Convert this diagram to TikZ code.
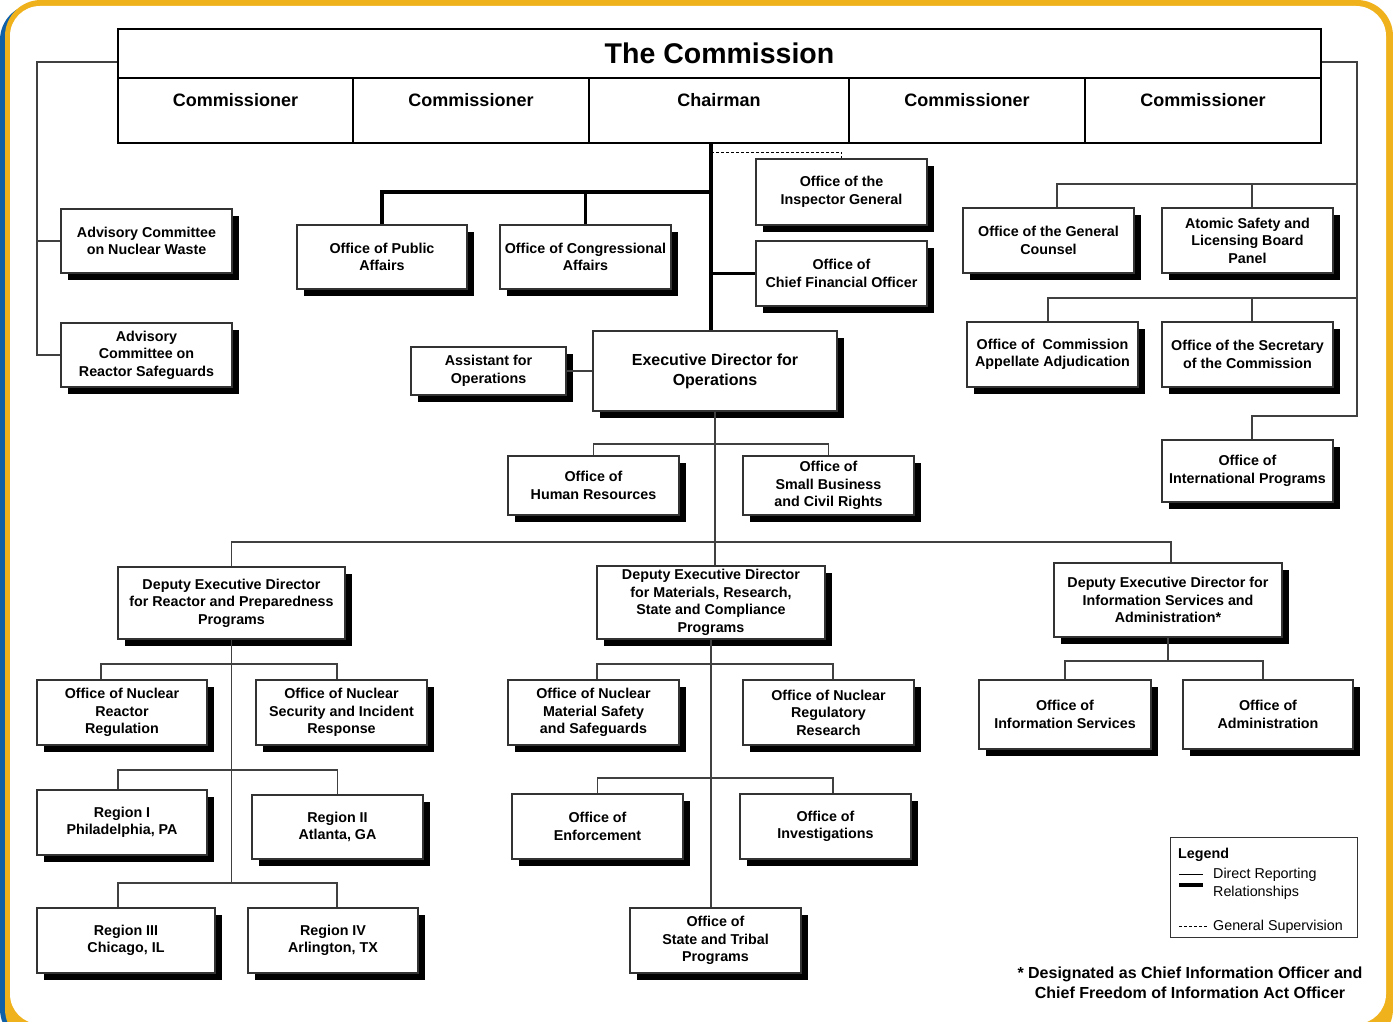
\documentclass[tikz,border=0pt]{standalone}
\usepackage{fontspec}
\setmainfont{Liberation Sans}
\usetikzlibrary{shadows}
\definecolor{gold}{RGB}{240,178,28}
\definecolor{frameblue}{RGB}{16,96,168}
\newcommand\orgbox[6]{\node[box,minimum width={#4-#2},minimum height={#5-#3}] (#1) at ({(#2+#4)/2},{(#3+#5)/2}) {#6};}
\newcommand\teeconn[3]{\draw[conn] (#1) -- (#1 |- #3) -- (#2 |- #3) -- (#2);}
\begin{document}
\begin{tikzpicture}[x=1pt,y=-1pt,
 box/.style={draw=black!80, line width=1.4pt, fill=white, drop shadow={shadow xshift=7pt,shadow yshift=-7pt,opacity=1,fill=black}, align=center, inner sep=0pt, font=\fontsize{14.3}{17.5}\selectfont\bfseries},
 conn/.style={draw=black!75, line width=1.1pt},
 tconn/.style={draw=black, line width=3.6pt},
 supline/.style={draw=black, line width=0.9pt, dash pattern=on 3pt off 2pt},
 hcell/.style={draw=black, line width=2.6pt, fill=white, inner sep=0pt},
 hdr/.style={font=\fontsize{18}{21}\selectfont\bfseries, inner sep=0pt},
]
\useasboundingbox (0,0) rectangle (1393,1022);
% frame
\begin{scope}
\clip (0,0) rectangle (1393,1022);
\fill[white] (0,0) rectangle (1393,1022);
\fill[frameblue, rounded corners=36pt] (0,4) rectangle (1380,1045);
\fill[gold, rounded corners=36pt] (5,0) rectangle (1393,1045);
\fill[white, rounded corners=30pt] (10,6) rectangle (1386,1024);
\end{scope}

% The Commission
\node[hcell, minimum width=1203, minimum height=49, font=\fontsize{28.5}{30}\selectfont\bfseries] (title) at (719.5,53.5) {The Commission};
\node[hcell, minimum width=235, minimum height=65] (c1) at (235.5,110.5) {};
\node[hcell, minimum width=236, minimum height=65] (c2) at (471,110.5) {};
\node[hcell, minimum width=260, minimum height=65] (c3) at (719,110.5) {};
\node[hcell, minimum width=236, minimum height=65] (c4) at (967,110.5) {};
\node[hcell, minimum width=236, minimum height=65] (c5) at (1203,110.5) {};
\node[hdr] (c1t) at (235.5,100) {Commissioner};
\node[hdr] (c2t) at (471,100) {Commissioner};
\node[hdr] (c3t) at (719,100) {Chairman};
\node[hdr] (c4t) at (967,100) {Commissioner};
\node[hdr] (c5t) at (1203,100) {Commissioner};

% boxes
\orgbox{acnw}{61}{209}{232}{273}{Advisory Committee\\on Nuclear Waste}
\orgbox{acrs}{61}{323}{232}{387}{Advisory\\Committee on\\Reactor Safeguards}
\orgbox{opa}{297}{225}{467}{289}{Office of Public\\Affairs}
\orgbox{oca}{500}{225}{671}{289}{Office of Congressional\\Affairs}
\orgbox{oig}{756}{159}{927}{225}{Office of the\\Inspector General}
\orgbox{ocfo}{756}{241}{927}{306}{Office of\\Chief Financial Officer}
\node[box, font=\fontsize{16}{20}\selectfont\bfseries, minimum width=244, minimum height=80] (edo) at (715,371) {Executive Director for\\Operations};
\orgbox{ao}{411}{347}{566}{395}{Assistant for\\Operations}
\orgbox{ohr}{508}{456}{679}{515}{Office of\\Human Resources}
\orgbox{osb}{743}{456}{914}{515}{Office of\\Small Business\\and Civil Rights}
\orgbox{dedr}{118}{567}{345}{639}{Deputy Executive Director\\for Reactor and Preparedness\\Programs}
\orgbox{dedm}{597}{566}{825}{639}{Deputy Executive Director\\for Materials, Research,\\State and Compliance\\Programs}
\orgbox{dedi}{1054}{563}{1282}{637}{Deputy Executive Director for\\Information Services and\\Administration*}
\orgbox{onrr}{37}{680}{207}{745}{Office of Nuclear\\Reactor\\Regulation}
\orgbox{nsir}{256}{680}{427}{745}{Office of Nuclear\\Security and Incident\\Response}
\orgbox{r1}{37}{790}{207}{855}{Region I\\Philadelphia, PA}
\orgbox{r2}{252}{795}{423}{859}{Region II\\Atlanta, GA}
\orgbox{r3}{37}{908}{215}{973}{Region III\\Chicago, IL}
\orgbox{r4}{248}{908}{418}{973}{Region IV\\Arlington, TX}
\orgbox{onmss}{508}{680}{679}{745}{Office of Nuclear\\Material Safety\\and Safeguards}
\orgbox{ores}{743}{680}{914}{745}{Office of Nuclear\\Regulatory\\Research}
\orgbox{oe}{512}{794}{683}{859}{Office of\\Enforcement}
\orgbox{oi}{740}{794}{911}{859}{Office of\\Investigations}
\orgbox{ostp}{630}{908}{801}{973}{Office of\\State and Tribal\\Programs}
\orgbox{ogc}{963}{208}{1134}{273}{Office of the General\\Counsel}
\orgbox{aslbp}{1162}{208}{1333}{273}{Atomic Safety and\\Licensing Board\\Panel}
\orgbox{ocaa}{967}{322}{1138}{387}{Office of\ \ Commission\\Appellate Adjudication}
\orgbox{osc}{1162}{322}{1333}{387}{Office of the Secretary\\of the Commission}
\orgbox{oip}{1162}{440}{1333}{502}{Office of\\International Programs}
\orgbox{ois}{979}{680}{1151}{749}{Office of\\Information Services}
\orgbox{oa}{1183}{680}{1353}{749}{Office of\\Administration}

% coordinates
\coordinate (L0) at (37,62);
\coordinate (R0) at (1357,62);
\coordinate (R1) at (1357,184);
\coordinate (R2) at (1357,298);
\coordinate (R3) at (1357,416);
\coordinate (cx) at (711,0);
\coordinate (T1) at (711,192);
\coordinate (D1) at (711,152);
\coordinate (E1) at (715,444);
\coordinate (E2) at (715,542);
\coordinate (yA) at (0,664);
\coordinate (yB) at (0,770);
\coordinate (yC) at (0,883);
\coordinate (yD) at (0,778);
\coordinate (yE) at (0,661);

% left bracket
\draw[conn] (title.west |- L0) -- (L0) |- (acnw.west);
\draw[conn] (L0) |- (acrs.west);
% right bracket
\draw[conn] (title.east |- R0) -- (R0) -- (R3) -| ([xshift=4.5pt]oip.north);
\draw[conn] (R1) -| ([xshift=8.5pt]ogc.north);
\draw[conn] ([xshift=4.5pt]aslbp.north) -- ([xshift=4.5pt]aslbp.north |- R1);
\draw[conn] (R2) -| ([xshift=-4.5pt]ocaa.north);
\draw[conn] ([xshift=4.5pt]osc.north) -- ([xshift=4.5pt]osc.north |- R2);

% chairman thick lines
\draw[tconn] (c3.south -| cx) -- (edo.north -| cx);
\draw[tconn, line join=miter] (T1) -| (opa.north);
\draw[tconn] (oca.north |- T1) -- (oca.north);
\draw[tconn] (ocfo.west -| cx) -- (ocfo.west);
\draw[supline] (D1) -| (oig.north);
\draw[conn] (ao.east) -- (ao.east -| edo.west);

% EDO subtree
\draw[conn] (edo.south) -- ([xshift=4pt]dedm.north);
\teeconn{ohr.north}{osb.north}{E1}
\draw[conn] (dedr.north) -- (dedr.north |- E2) -- ([xshift=3pt]dedi.north |- E2) -- ([xshift=3pt]dedi.north);

% DEDR subtree
\draw[conn] (dedr.south) -- (dedr.south |- yC);
\teeconn{[xshift=-21pt]onrr.north}{[xshift=-4.5pt]nsir.north}{yA}
\teeconn{[xshift=-4pt]r1.north}{r2.north}{yB}
\teeconn{[xshift=-8pt]r3.north}{[xshift=4pt]r4.north}{yC}

% DEDM subtree
\draw[conn] (dedm.south) -- (dedm.south |- ostp.north);
\teeconn{[xshift=3.5pt]onmss.north}{[xshift=4.5pt]ores.north}{yA}
\teeconn{oe.north}{[xshift=7.5pt]oi.north}{yD}

% DEDI subtree
\draw[conn] (dedi.south) -- (dedi.south |- yE);
\teeconn{ois.north}{[xshift=-5pt]oa.north}{yE}

% legend
\node[draw=black!80, line width=1pt, minimum width=187, minimum height=100, inner sep=0pt] (legend) at (1263.5,887) {};
\node[anchor=west, inner sep=0pt, font=\fontsize{14.3}{17.5}\selectfont\bfseries] (lgtitle) at (1178,855) {Legend};
\coordinate (lg1a) at (1179,874);
\coordinate (lg1b) at (1203,874);
\coordinate (lg2a) at (1179,885);
\coordinate (lg2b) at (1203,885);
\coordinate (lg3a) at (1179,926);
\coordinate (lg3b) at (1207,926);
\draw[black, line width=1pt] (lg1a) -- (lg1b);
\draw[black, line width=3.5pt] (lg2a) -- (lg2b);
\draw[supline] (lg3a) -- (lg3b);
\node[anchor=north west, inner sep=0pt, align=left, font=\fontsize{14.3}{17.5}\selectfont] (lgdirect) at (1213,868) {Direct Reporting\\Relationships};
\node[anchor=west, inner sep=0pt, font=\fontsize{14.3}{17.5}\selectfont] (lgsup) at (1213,927) {General Supervision};

% footnote
\node[align=center, inner sep=0pt, font=\fontsize{16}{20}\selectfont\bfseries] (foot) at (1190,983) {* Designated as Chief Information Officer and\\Chief Freedom of Information Act Officer};
\end{tikzpicture}
\end{document}
